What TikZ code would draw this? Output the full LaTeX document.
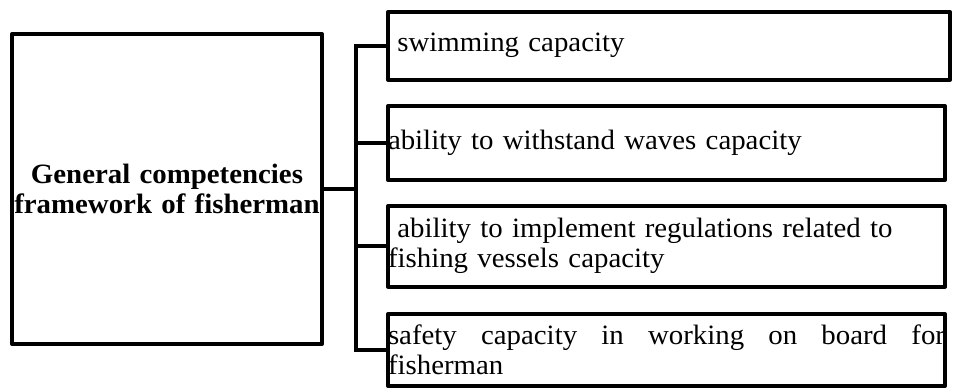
\documentclass[tikz,border=0pt]{standalone}
\usepackage{fontspec}
\setmainfont{Liberation Serif}[FakeStretch=1.03]
\usetikzlibrary{positioning}

\begin{document}
\begin{tikzpicture}[x=1pt,y=-1pt]
      \tikzstyle{every node} = [draw, line width=4pt, line join=round, inner xsep=0pt, inner ysep=0pt, outer sep=0pt, anchor=north west, font=\fontsize{28}{30}\selectfont]
      \tikzstyle{itembox} = [align=left, text width=557pt]
      \tikzstyle{link} = [line width=4pt]
      \useasboundingbox (0,0) rectangle (953,388);
      \node[text width=310pt, minimum height=310pt, align=center, font=\fontsize{28}{30}\selectfont\bfseries] (frame) at (12,34) {General competencies\\framework of fisherman};
      \node[itembox, text width=562pt, minimum height=67.5pt] (b1) at (388,12) {\ swimming capacity};
      \node[itembox, minimum height=74pt] (b2) at (388,106) {ability to withstand waves capacity};
      \node[itembox, minimum height=80.5pt] (b3) at (388,206) {\ ability to implement regulations related to\\fishing vessels capacity};
      \node[itembox, align=justify, minimum height=72pt] (b4) at (388,314) {safety capacity in working on board for\linebreak fisherman};
      \coordinate (jn) at (355.5,190);
      \draw[link] (frame.east) -- (frame.east -| jn);
      \draw[link] (b1.west) -- (jn |- b1.west) -- (jn |- b4.west) -- (b4.west);
      \foreach \b in {b2,b3}
        \draw[link] (\b.west) -- (jn |- \b.west);
\end{tikzpicture}
\end{document}
